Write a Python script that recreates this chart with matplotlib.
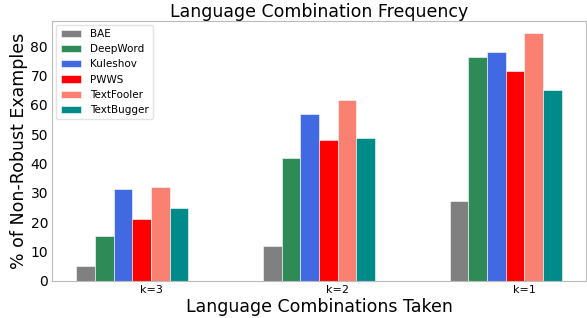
import matplotlib
matplotlib.use("Agg")
import matplotlib.pyplot as plt
import numpy as np

groups = ["k=3", "k=2", "k=1"]
attacks = ["BAE", "DeepWord", "Kuleshov", "PWWS", "TextFooler", "TextBugger"]
colors = ["grey", "seagreen", "royalblue", "red", "salmon", "darkcyan"]

bae        = [5.0, 12.0, 27.3]
deepword   = [15.3, 42.0, 76.5]
kuleshov   = [31.4, 57.0, 77.9]
pwws       = [21.2, 48.0, 71.5]
textfooler = [32.1, 61.5, 84.5]
textbugger = [24.9, 48.8, 65.1]

series = [bae, deepword, kuleshov, pwws, textfooler, textbugger]

fig = plt.figure(figsize=(5.87, 3.18), dpi=100)
ax = fig.add_axes([0.089, 0.117, 0.909, 0.818])

x = np.arange(len(groups))
w = 0.1
for i, (vals, name, c) in enumerate(zip(series, attacks, colors)):
    ax.bar(x + (i - 3.5) * w, vals, w, label=name, color=c,
           edgecolor="white", linewidth=0.4)

ax.set_xticks(x)
ax.set_xticklabels(groups, fontsize=8)
ax.tick_params(axis="y", labelsize=10)
ax.tick_params(length=0, pad=3)
for s in ax.spines.values():
    s.set_color("#bbbbbb")
    s.set_linewidth(0.8)

ax.set_title("Language Combination Frequency", fontsize=12.5, pad=3)
ax.set_xlabel("Language Combinations Taken", fontsize=12.5, labelpad=2)
ax.set_ylabel("% of Non-Robust Examples", fontsize=12.5, labelpad=2)
ax.legend(loc="upper left", fontsize=7.5, frameon=True, edgecolor="#dddddd",
          borderaxespad=0.4)

fig.savefig("out.png", dpi=100)
